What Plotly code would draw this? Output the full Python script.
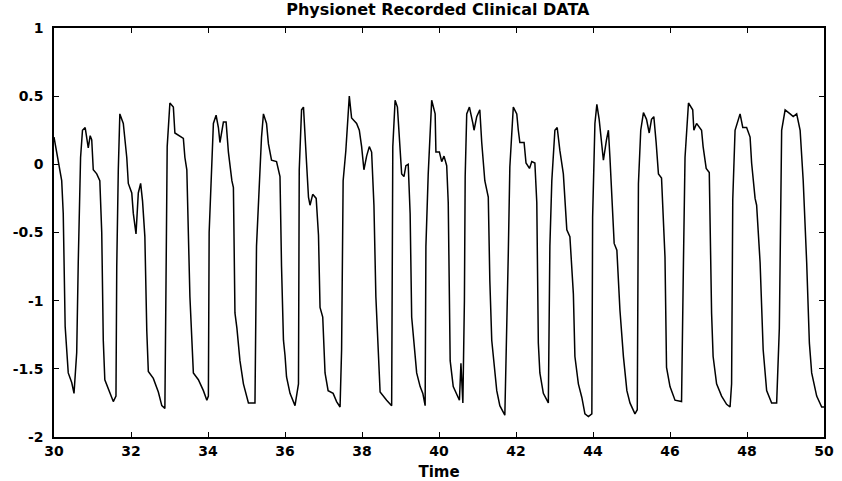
import plotly.graph_objects as go

time = [30.00, 30.11, 30.20, 30.24, 30.29, 30.37, 30.46, 30.52, 30.55, 30.59, 30.63, 30.69, 30.74, 30.81, 30.89, 30.94, 30.98,
        31.02, 31.11, 31.19, 31.24, 31.28, 31.32, 31.45, 31.54, 31.61, 31.63, 31.67, 31.71, 31.80, 31.89, 31.93,
        32.02, 32.06, 32.13, 32.19, 32.25, 32.30, 32.36, 32.41, 32.45, 32.58, 32.71, 32.80, 32.88, 32.91, 32.94,
        33.01, 33.10, 33.14, 33.27, 33.36, 33.40, 33.45, 33.53, 33.58, 33.62, 33.75, 33.88, 33.97,
        34.01, 34.03, 34.10, 34.14, 34.21, 34.27, 34.31, 34.36, 34.40, 34.47, 34.53, 34.62, 34.66, 34.70, 34.75, 34.83, 34.92,
        35.05, 35.22, 35.26, 35.33, 35.39, 35.44, 35.52, 35.57, 35.65, 35.78, 35.87, 35.91, 35.96,
        36.00, 36.04, 36.13, 36.26, 36.35, 36.37, 36.43, 36.48, 36.56, 36.61, 36.65, 36.72, 36.81, 36.87, 36.91, 36.98,
        37.04, 37.12, 37.25, 37.34, 37.43, 37.47, 37.51, 37.58, 37.67, 37.73, 37.86, 37.93, 37.99,
        38.05, 38.12, 38.19, 38.25, 38.31, 38.36, 38.42, 38.47, 38.64, 38.77, 38.80, 38.86, 38.92, 38.99,
        39.03, 39.09, 39.14, 39.20, 39.25, 39.29, 39.38, 39.42, 39.51, 39.58, 39.64, 39.66, 39.72, 39.81, 39.90, 39.92,
        40.01, 40.07, 40.13, 40.20, 40.24, 40.29, 40.37, 40.46, 40.53, 40.57, 40.62, 40.66, 40.68, 40.72, 40.79, 40.88, 40.91, 40.98,
        41.06, 41.11, 41.19, 41.28, 41.32, 41.37, 41.41, 41.50, 41.58, 41.71, 41.80, 41.84, 41.93,
        42.02, 42.06, 42.10, 42.21, 42.26, 42.35, 42.41, 42.49, 42.54, 42.58, 42.62, 42.71, 42.84, 42.88, 42.93,
        43.01, 43.07, 43.14, 43.23, 43.32, 43.40, 43.49, 43.53, 43.62, 43.71, 43.79, 43.88, 43.97, 43.99,
        44.05, 44.10, 44.16, 44.23, 44.27, 44.35, 44.40, 44.44, 44.49, 44.55, 44.62, 44.70, 44.79, 44.88, 44.96,
        45.09, 45.15, 45.18, 45.24, 45.31, 45.39, 45.46, 45.52, 45.58, 45.64, 45.70, 45.78, 45.87, 45.91,
        46.00, 46.13, 46.30, 46.35, 46.39, 46.48, 46.59, 46.62, 46.69, 46.82, 46.86, 46.94,
        47.02, 47.08, 47.12, 47.21, 47.34, 47.47, 47.56, 47.60, 47.63, 47.69, 47.82, 47.89, 47.99,
        48.08, 48.12, 48.21, 48.25, 48.34, 48.42, 48.51, 48.64, 48.77, 48.84, 48.90, 48.99,
        49.12, 49.20, 49.29, 49.38, 49.46, 49.51, 49.55, 49.62, 49.68, 49.81, 49.94, 50.00]

signal = [0.20, 0.01, -0.12, -0.36, -1.19, -1.53, -1.60, -1.68, -1.53, -1.38, -0.72, 0.05, 0.25, 0.27, 0.12, 0.21, 0.18,
          -0.04, -0.07, -0.12, -0.50, -1.29, -1.58, -1.68, -1.74, -1.70, -0.75, -0.04, 0.37, 0.30, 0.05, -0.14,
          -0.21, -0.36, -0.51, -0.21, -0.14, -0.27, -0.53, -1.22, -1.52, -1.57, -1.67, -1.77, -1.79, -0.85, 0.13,
          0.45, 0.42, 0.23, 0.21, 0.19, 0.05, -0.04, -0.97, -1.34, -1.53, -1.58, -1.66, -1.73,
          -1.70, -0.50, 0.05, 0.30, 0.36, 0.27, 0.16, 0.25, 0.31, 0.31, 0.09, -0.12, -0.17, -1.09, -1.20, -1.44, -1.61,
          -1.75, -1.75, -0.60, -0.10, 0.20, 0.37, 0.30, 0.15, 0.03, 0.02, -0.09, -0.75, -1.29,
          -1.40, -1.56, -1.68, -1.77, -1.61, -0.04, 0.40, 0.42, 0.01, -0.24, -0.30, -0.22, -0.25, -0.52, -1.05, -1.12,
          -1.53, -1.66, -1.68, -1.74, -1.78, -1.36, -0.12, 0.10, 0.50, 0.34, 0.30, 0.25, 0.13,
          -0.04, 0.06, 0.13, 0.09, -0.30, -0.97, -1.38, -1.67, -1.73, -1.77, 0.13, 0.47, 0.42, 0.13,
          -0.07, -0.09, -0.01, 0.00, -0.36, -1.12, -1.41, -1.53, -1.63, -1.68, -1.77, -0.60, -0.07, 0.47, 0.37, 0.09,
          0.09, 0.02, 0.06, -0.01, -0.28, -1.44, -1.63, -1.69, -1.73, -1.46, -1.75, -1.00, -0.09, 0.37, 0.42, 0.30, 0.25, 0.35,
          0.40, 0.16, -0.12, -0.24, -0.85, -1.29, -1.39, -1.66, -1.77, -1.84, -0.65, -0.02, 0.42,
          0.37, 0.25, 0.16, 0.16, 0.01, -0.03, 0.02, 0.01, -0.28, -1.31, -1.53, -1.68, -1.75, -0.60, -0.12,
          0.25, 0.27, 0.10, -0.07, -0.48, -0.53, -0.95, -1.41, -1.61, -1.71, -1.83, -1.85, -1.83, -0.39,
          0.30, 0.44, 0.33, 0.10, 0.03, 0.18, 0.25, 0.05, -0.24, -0.58, -0.63, -1.07, -1.41, -1.66, -1.75,
          -1.83, -1.80, -0.14, 0.25, 0.38, 0.33, 0.23, 0.33, 0.35, 0.16, -0.07, -0.10, -0.68, -1.49,
          -1.63, -1.73, -1.74, -0.70, 0.05, 0.45, 0.40, 0.25, 0.30, 0.25, 0.13, -0.03,
          -0.06, -1.09, -1.41, -1.61, -1.70, -1.76, -1.78, -1.61, -0.26, 0.25, 0.37, 0.27, 0.27,
          0.20, 0.01, -0.25, -0.30, -0.72, -1.36, -1.66, -1.75, -1.75, -1.20, 0.25, 0.40,
          0.37, 0.35, 0.37, 0.25, -0.12, -0.43, -0.72, -1.31, -1.53, -1.70, -1.78, -1.78]

x_ticks = [30, 32, 34, 36, 38, 40, 42, 44, 46, 48, 50]
y_ticks = [1, 0.5, 0, -0.5, -1, -1.5, -2]
y_tick_text = ["1", "0.5", "0", "-0.5", "-1", "-1.5", "-2"]

font_family = "DejaVu Sans, Liberation Sans, Arial, sans-serif"

fig = go.Figure(go.Scatter(x=time, y=signal, mode="lines",
                           line=dict(color="black", width=1.5), showlegend=False))

fig.update_layout(
    width=842, height=481,
    margin=dict(l=54, r=18, t=28, b=44),
    paper_bgcolor="white", plot_bgcolor="white",
    title=dict(text="Physionet Recorded Clinical DATA", x=0.52, xanchor="center",
               y=0.992, yanchor="top",
               font=dict(family=font_family, size=16, color="black", weight="bold")),
    font=dict(family=font_family, size=14, color="black", weight="bold"),
)

fig.update_xaxes(range=[30, 50], tickvals=x_ticks, ticktext=[str(v) for v in x_ticks],
                 ticks="inside", ticklen=5, tickcolor="black", tickwidth=1,
                 showline=True, linecolor="black", linewidth=1.5, mirror="allticks",
                 showgrid=False, zeroline=False, automargin=False,
                 title=dict(text="Time", standoff=9,
                            font=dict(family=font_family, size=15, weight="bold")),
                 tickfont=dict(family=font_family, size=14, weight="bold"))
fig.update_yaxes(range=[-2, 1], tickvals=y_ticks, ticktext=y_tick_text,
                 ticks="inside", ticklen=5, tickcolor="black", tickwidth=1,
                 showline=True, linecolor="black", linewidth=1.5, mirror="allticks",
                 showgrid=False, zeroline=False, ticklabelstandoff=6, automargin=False,
                 tickfont=dict(family=font_family, size=14, weight="bold"))

fig.write_html("out.html")
